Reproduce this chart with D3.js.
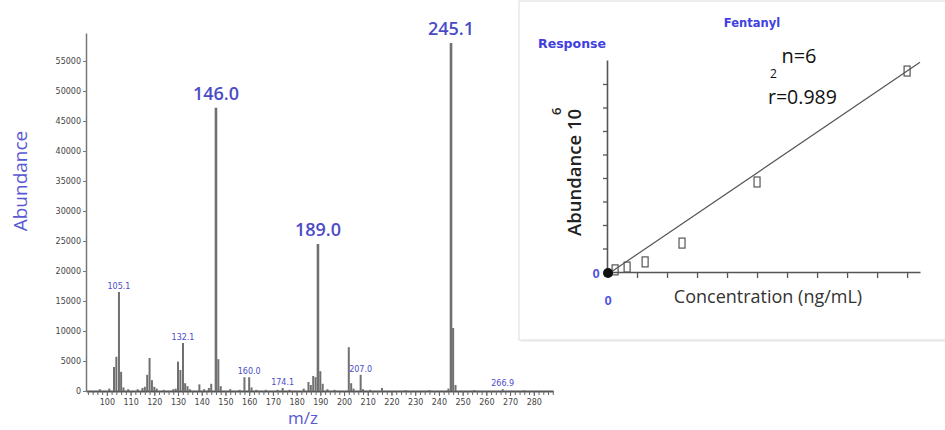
<!DOCTYPE html>
<html>
<head>
<meta charset="utf-8">
<script src="https://cdn.jsdelivr.net/npm/d3@7"></script>
<style>
  html, body { margin: 0; padding: 0; background: #fff; }
  svg { display: block; }
</style>
</head>
<body>
<div id="chart"></div>
<script>
// mass spectrum peaks (m/z, abundance)
const peakMz = [97, 101, 103, 104, 105.1, 106, 107, 109, 113, 115, 116, 117, 118, 119, 120, 121, 124, 128, 129,
  130, 131, 132.1, 133, 134, 135, 139, 141, 143, 144, 146.0, 147, 148, 152, 156, 158, 160.0, 161, 163, 167, 172,
  174.1, 177, 183, 185, 186, 187, 188, 189.0, 190, 191, 193, 196, 202, 203, 204, 207.0, 208, 211, 216, 226, 236,
  244, 245.1, 246, 247, 255, 266.9, 276];
const peakAbund = [300, 400, 4000, 5700, 16500, 3200, 600, 300, 300, 500, 700, 2700, 5500, 1800, 700, 400, 200, 300, 400,
  4900, 3500, 8000, 1300, 800, 300, 1100, 300, 500, 1200, 47200, 5300, 800, 300, 200, 2300, 2300, 600, 200, 200, 200,
  500, 200, 400, 1500, 1000, 2500, 2300, 24500, 3300, 1200, 300, 200, 7300, 1300, 400, 2700, 300, 200, 500, 150, 150,
  400, 58000, 10500, 1000, 150, 300, 100];

// labelled peaks
const bigLabels = [146.0, 189.0, 245.1];
const smallLabels = [105.1, 132.1, 160.0, 174.1, 207.0, 266.9];

// axis ticks
const abundTicks = d3.range(0, 55001, 5000);
const mzTicks = d3.range(100, 281, 10);
const mzMinor = d3.range(92, 289, 2);

// calibration curve (inset)
const concentration = [0.27, 0.67, 1.27, 2.5, 5, 10];
const response = [0.09, 0.21, 0.43, 1.23, 3.83, 8.55];
const fitX = [0.1, 10.43];
const fitY = [-0.03, 8.92];
const concTicks = d3.range(1, 11);
const respTicks = d3.range(1, 9);

const W = 945, H = 430;
const blue = "#4b4bc8";
const svg = d3.select("#chart").append("svg")
  .attr("width", W).attr("height", H);

// ---------- left: spectrum ----------
const x = d3.scaleLinear().domain([91.2, 288.1]).range([86, 553]);
const y = d3.scaleLinear().domain([0, 59667]).range([391, 33]);

const yAxis = svg.append("g")
  .attr("transform", "translate(86,0)")
  .call(d3.axisLeft(y).tickValues(abundTicks).tickSize(3).tickSizeOuter(0).tickPadding(2).tickFormat(d => d));
yAxis.select(".domain").attr("stroke", "#777").attr("stroke-width", 1.5);
yAxis.selectAll(".tick line").attr("stroke", "#777");
yAxis.selectAll("text").attr("font-family", "DejaVu Sans").attr("font-size", 8).attr("fill", "#444");

const xMinor = svg.append("g")
  .attr("transform", "translate(0,391)")
  .call(d3.axisBottom(x).tickValues(mzMinor).tickSize(4).tickSizeOuter(0).tickFormat(""));
xMinor.select(".domain").attr("stroke", "#555").attr("stroke-width", 2);
xMinor.selectAll(".tick line").attr("stroke", "#666");

const xAxis = svg.append("g")
  .attr("transform", "translate(0,391)")
  .call(d3.axisBottom(x).tickValues(mzTicks).tickSize(5).tickSizeOuter(0).tickPadding(3).tickFormat(d => d));
xAxis.select(".domain").remove();
xAxis.selectAll(".tick line").attr("stroke", "#666");
xAxis.selectAll("text").attr("font-family", "DejaVu Sans").attr("font-size", 8).attr("fill", "#444");

const peaks = peakMz.map((m, i) => ({ m, a: peakAbund[i] }));
svg.append("g").selectAll("line")
  .data(peaks)
  .join("line")
  .attr("x1", d => x(d.m)).attr("x2", d => x(d.m))
  .attr("y1", y(0)).attr("y2", d => y(d.a))
  .attr("stroke", "#707070")
  .attr("stroke-width", d => d.a > 20000 ? 2.6 : 2);

const abundOf = m => peakAbund[peakMz.indexOf(m)];

svg.append("g").selectAll("text")
  .data(bigLabels)
  .join("text")
  .attr("x", d => x(d))
  .attr("y", d => y(abundOf(d)) - 8)
  .attr("text-anchor", "middle")
  .attr("font-family", "Open Sans")
  .attr("font-weight", 600)
  .attr("font-size", 18)
  .attr("fill", blue)
  .text(d => d.toFixed(1));

svg.append("g").selectAll("text")
  .data(smallLabels)
  .join("text")
  .attr("x", d => x(d))
  .attr("y", d => y(abundOf(d)) - 3)
  .attr("text-anchor", "middle")
  .attr("font-family", "DejaVu Sans")
  .attr("font-size", 8)
  .attr("fill", blue)
  .text(d => d.toFixed(1));

svg.append("text")
  .attr("transform", "translate(27,181) rotate(-90)")
  .attr("text-anchor", "middle")
  .attr("font-family", "Open Sans")
  .attr("font-size", 19)
  .attr("fill", "#5858d4")
  .text("Abundance");

svg.append("text")
  .attr("x", 303).attr("y", 424)
  .attr("text-anchor", "middle")
  .attr("font-family", "Open Sans")
  .attr("font-size", 17)
  .attr("fill", "#5858d4")
  .text("m/z");

// ---------- right: calibration inset ----------
svg.append("rect")
  .attr("x", 521).attr("y", 3).attr("width", 440).attr("height", 339)
  .attr("fill", "#f2f2f2");
svg.append("rect")
  .attr("x", 519).attr("y", 1).attr("width", 440).attr("height", 339)
  .attr("fill", "#fff").attr("stroke", "#dcdcdc");

const cx = d3.scaleLinear().domain([0, 10.43]).range([607, 920]);
const cy = d3.scaleLinear().domain([0, 9.02]).range([272, 60]);

const cyAxis = svg.append("g")
  .attr("transform", "translate(607,0)")
  .call(d3.axisLeft(cy).tickValues(respTicks).tickSize(4).tickSizeOuter(0).tickFormat(""));
const cxAxis = svg.append("g")
  .attr("transform", "translate(0,272)")
  .call(d3.axisBottom(cx).tickValues(concTicks).tickSize(6).tickSizeOuter(0).tickFormat(""));
[cyAxis, cxAxis].forEach(a => {
  a.select(".domain").attr("stroke", "#555").attr("stroke-width", 1.6);
  a.selectAll(".tick line").attr("stroke", "#555").attr("stroke-width", 1.3);
});

svg.append("line")
  .attr("x1", cx(fitX[0])).attr("y1", cy(fitY[0]))
  .attr("x2", cx(fitX[1])).attr("y2", cy(fitY[1]))
  .attr("stroke", "#555").attr("stroke-width", 1.2);

svg.append("g").selectAll("rect")
  .data(concentration.map((c, i) => ({ c, r: response[i] })))
  .join("rect")
  .attr("x", d => cx(d.c) - 3)
  .attr("y", d => cy(d.r) - 5)
  .attr("width", 6).attr("height", 10)
  .attr("fill", "none")
  .attr("stroke", "#555").attr("stroke-width", 1.2);

svg.append("circle")
  .attr("cx", cx(0) + 1).attr("cy", cy(0) + 1).attr("r", 5)
  .attr("fill", "#111");

svg.append("text")
  .attr("x", 596).attr("y", 278)
  .attr("text-anchor", "middle")
  .attr("font-family", "Liberation Sans Narrow, Liberation Sans")
  .attr("font-weight", "bold").attr("font-size", 13)
  .attr("fill", "#5050e0")
  .text("0");
svg.append("text")
  .attr("x", 608).attr("y", 305)
  .attr("text-anchor", "middle")
  .attr("font-family", "Liberation Sans Narrow, Liberation Sans")
  .attr("font-weight", "bold").attr("font-size", 13)
  .attr("fill", "#5050e0")
  .text("0");

svg.append("text")
  .attr("x", 752).attr("y", 27)
  .attr("text-anchor", "middle")
  .attr("font-family", "DejaVu Sans").attr("font-weight", "bold").attr("font-size", 11.5)
  .attr("fill", "#4040e0")
  .text("Fentanyl");
svg.append("text")
  .attr("x", 572).attr("y", 48)
  .attr("text-anchor", "middle")
  .attr("font-family", "DejaVu Sans").attr("font-weight", "bold").attr("font-size", 12.5)
  .attr("fill", "#4040e0")
  .text("Response");

svg.append("text")
  .attr("x", 799).attr("y", 63)
  .attr("text-anchor", "middle")
  .attr("font-family", "Open Sans").attr("font-size", 20)
  .attr("fill", "#111")
  .text("n=6");

// r² with the "2" set above the r, as in the original
svg.append("text")
  .attr("x", 770).attr("y", 78)
  .attr("font-family", "Open Sans").attr("font-size", 12)
  .attr("fill", "#111")
  .text("2");
svg.append("text")
  .attr("x", 768).attr("y", 104)
  .attr("font-family", "Open Sans").attr("font-size", 19.5)
  .attr("fill", "#111")
  .text("r=0.989");

const yTitle = svg.append("text")
  .attr("transform", "translate(581,236) rotate(-90)")
  .attr("font-family", "Open Sans").attr("font-weight", 600).attr("font-size", 18.5)
  .attr("fill", "#222");
yTitle.append("tspan").text("Abundance 10");
yTitle.append("tspan").attr("dx", -6).attr("dy", -20).attr("font-size", 13).text("6");

svg.append("text")
  .attr("x", 768).attr("y", 303)
  .attr("text-anchor", "middle")
  .attr("font-family", "Open Sans").attr("font-size", 18)
  .attr("fill", "#333")
  .text("Concentration (ng/mL)");
</script>
</body>
</html>
